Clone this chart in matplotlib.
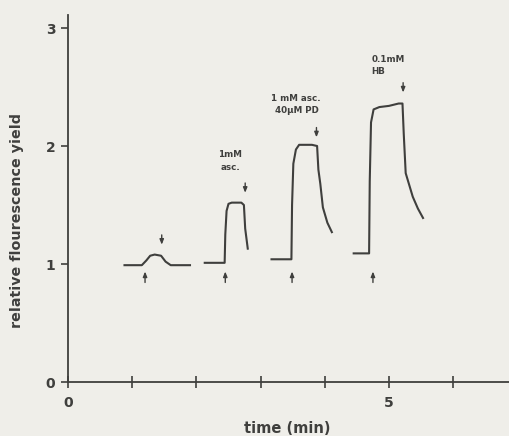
import numpy as np
import matplotlib.pyplot as plt

# traces: time (min), relative fluorescence yield
t1 = [0.88, 1.15, 1.22, 1.28, 1.35, 1.45, 1.52, 1.60, 1.90]
v1 = [0.99, 0.99, 1.03, 1.07, 1.08, 1.07, 1.02, 0.99, 0.99]

t2 = [2.13, 2.44, 2.45, 2.47, 2.50, 2.55, 2.70, 2.74, 2.76, 2.80]
v2 = [1.01, 1.01, 1.25, 1.45, 1.51, 1.52, 1.52, 1.50, 1.30, 1.13]

t3 = [3.17, 3.48, 3.49, 3.51, 3.55, 3.60, 3.80, 3.88, 3.90, 3.93, 3.97, 4.04, 4.11]
v3 = [1.04, 1.04, 1.50, 1.85, 1.97, 2.01, 2.01, 2.00, 1.80, 1.68, 1.48, 1.35, 1.27]

t4 = [4.45, 4.69, 4.70, 4.72, 4.76, 4.85, 5.00, 5.15, 5.21, 5.23, 5.26, 5.37, 5.45, 5.53]
v4 = [1.09, 1.09, 1.70, 2.20, 2.31, 2.33, 2.34, 2.36, 2.36, 2.10, 1.77, 1.57, 1.47, 1.39]

traces = [(t1, v1), (t2, v2), (t3, v3), (t4, v4)]

# arrows: "on" (pointing up, under trace) and "off" (pointing down, above trace)
up_x = [1.20, 2.45, 3.49, 4.75]
down_x = [1.46, 2.76, 3.87, 5.22]
down_tip = [1.14, 1.58, 2.05, 2.43]

labels = ["1mM\nasc.", "1 mM asc.\n 40\u00b5M PD", "0.1mM\nHB"]
label_x = [2.53, 3.55, 4.73]
label_y = [1.78, 2.26, 2.59]
label_ha = ['center', 'center', 'left']

ink = '#3f3f3d'
bg = '#efeee9'

fig = plt.figure(figsize=(5.09, 4.36), dpi=100, facecolor=bg)
ax = fig.add_axes([68/509, 1 - 382/436, 1 - 68/509, (382 - 15)/436])
ax.set_facecolor(bg)

for t, v in traces:
    ax.plot(t, v, color=ink, lw=1.5, solid_joinstyle='round')

arrow = dict(arrowstyle='-|>,head_length=0.3,head_width=0.12', color=ink, lw=1.0)
for x in up_x:
    ax.annotate('', xy=(x, 0.96), xytext=(x, 0.82), arrowprops=arrow)
for x, tip in zip(down_x, down_tip):
    ax.annotate('', xy=(x, tip), xytext=(x, tip + 0.13), arrowprops=arrow)

for txt, x, y, ha in zip(labels, label_x, label_y, label_ha):
    ax.text(x, y, txt, ha=ha, va='bottom', fontsize=6.3, fontweight='bold',
            color=ink, linespacing=1.5)

ax.set_xlim(0, 441/64.2)
ax.set_ylim(0, 367/118)
for s in ['top', 'right']:
    ax.spines[s].set_visible(False)
for s in ['left', 'bottom']:
    ax.spines[s].set_color(ink)
    ax.spines[s].set_linewidth(1.3)

ax.set_xticks(range(0, 7))
ax.set_xticklabels(['0', '', '', '', '', '5', ''])
ax.set_yticks([0, 1, 2, 3])
ax.tick_params(axis='x', direction='inout', length=8, width=1.2, color=ink,
               labelcolor=ink, labelsize=10, pad=6)
ax.tick_params(axis='y', direction='out', length=5, width=1.2, color=ink,
               labelcolor=ink, labelsize=10, pad=4)
for lab in ax.get_xticklabels() + ax.get_yticklabels():
    lab.set_fontweight('bold')

ax.set_xlabel('time (min)', fontsize=10.5, fontweight='bold', color=ink)
ax.xaxis.set_label_coords((287 - 68)/441, -0.105)
ax.set_ylabel('relative flourescence yield', fontsize=10.3, fontweight='bold', color=ink)
ax.yaxis.set_label_coords(-0.10, (382 - 221)/367)

fig.savefig('out.png', dpi=100, facecolor=bg)
